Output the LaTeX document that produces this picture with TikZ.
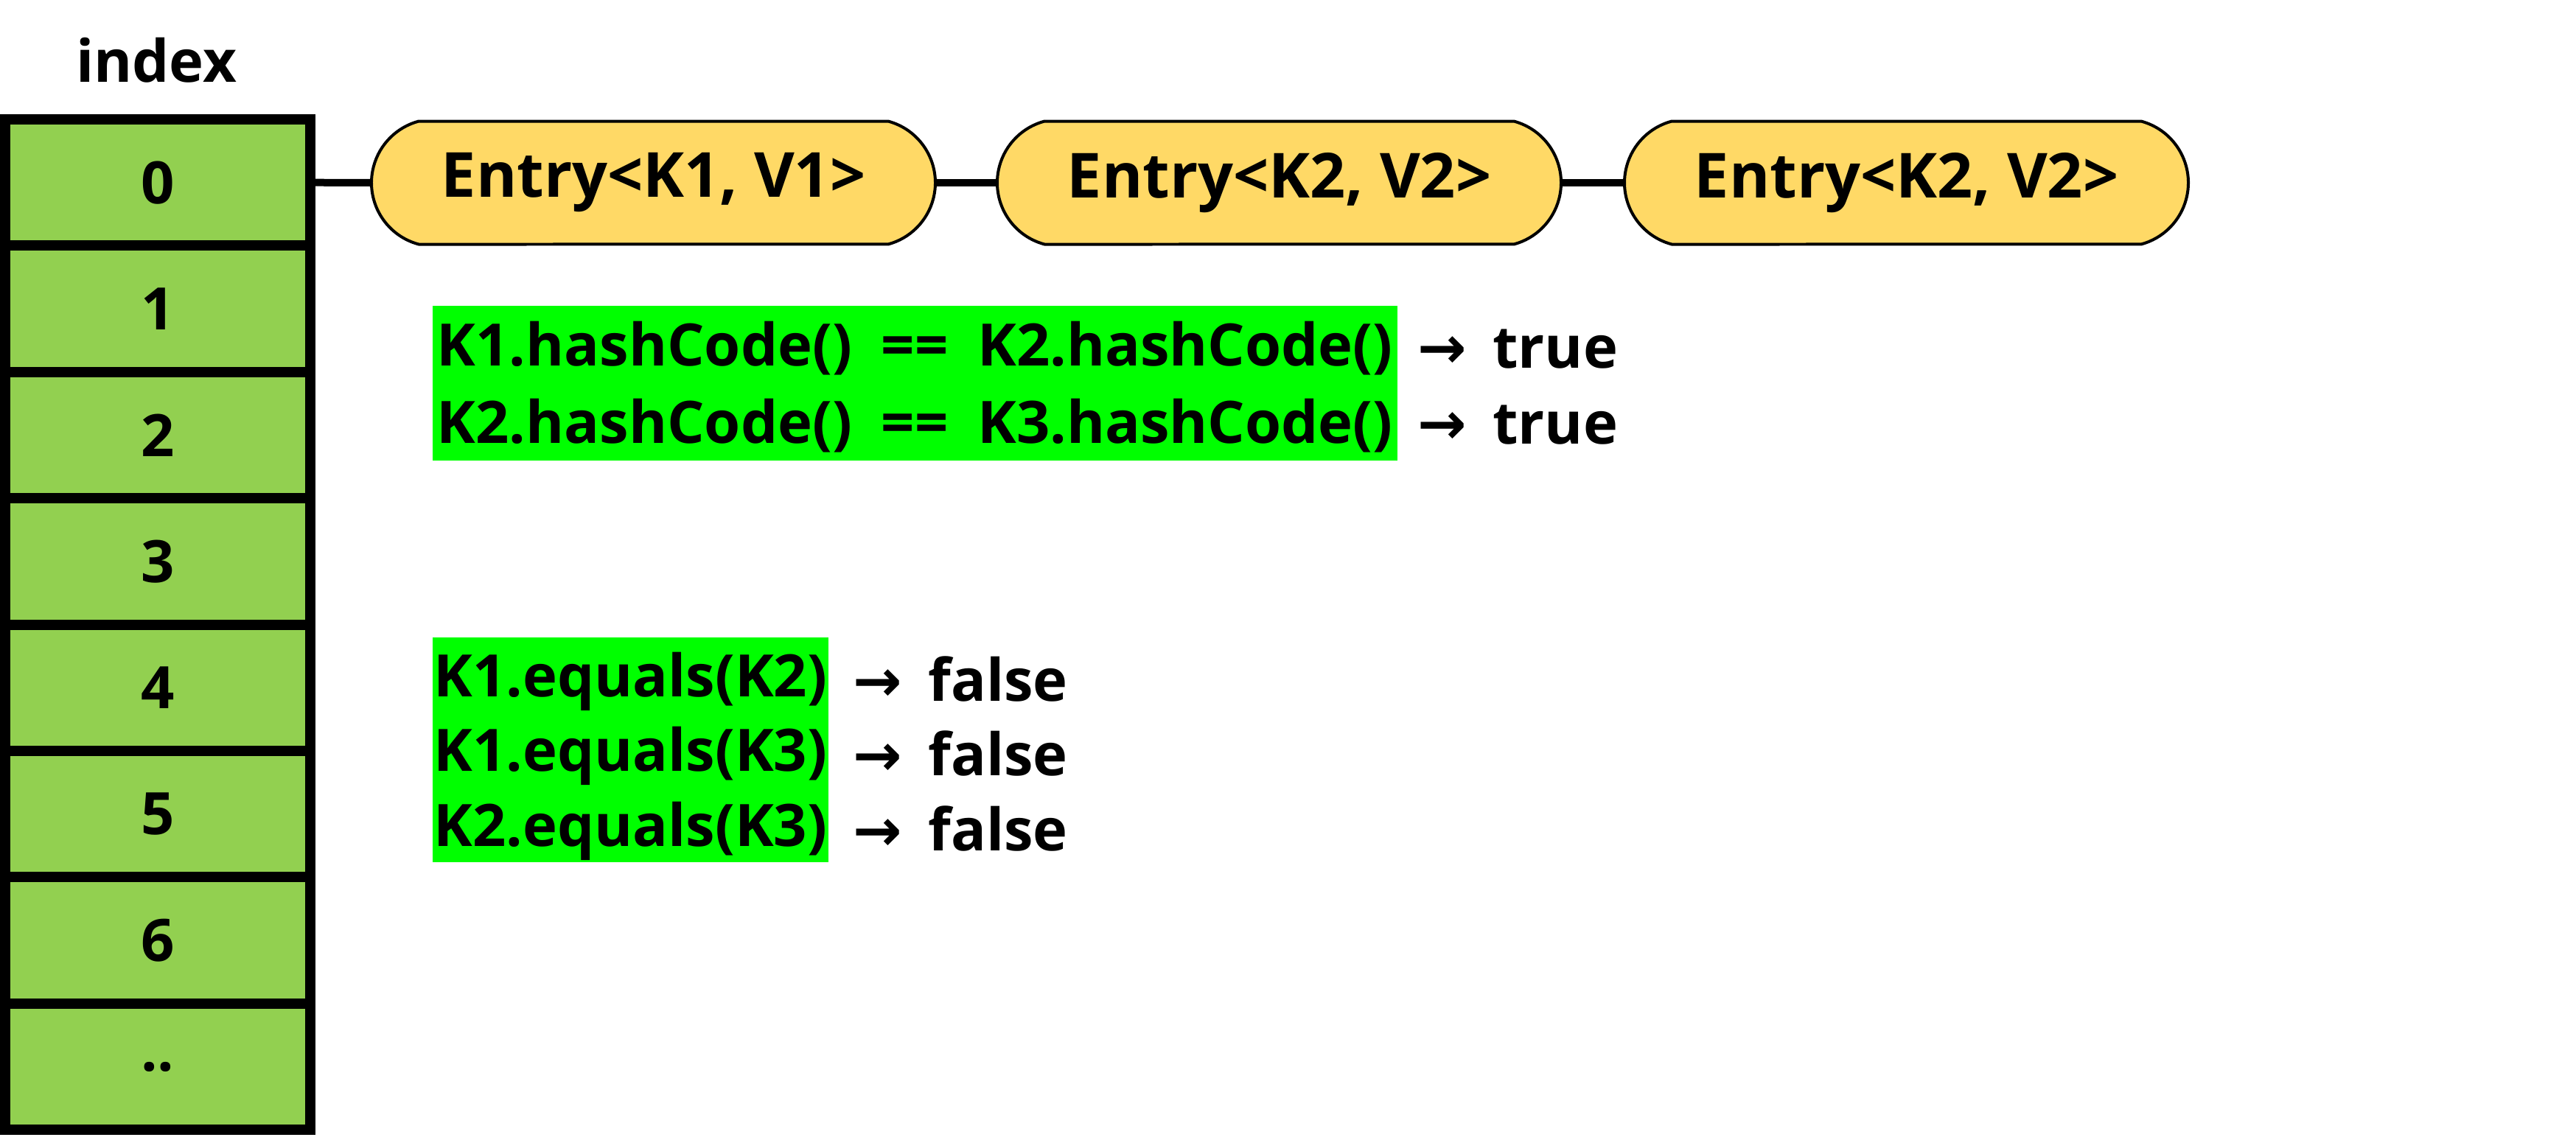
\documentclass[tikz,border=0pt]{standalone}
\usepackage{fontspec}
\setmainfont{Open Sans}
\newfontfamily\arrowfont{DejaVu Sans}
\usetikzlibrary{shapes.misc}

\definecolor{cellgreen}{HTML}{92D050}
\definecolor{entryyellow}{HTML}{FFD966}
\definecolor{markgreen}{HTML}{00FF00}

\begin{document}
\begin{tikzpicture}[
    font=\fontsize{22.6}{26}\selectfont\bfseries,
    cell/.style={draw, line width=0.14cm, fill=cellgreen, minimum width=4.14cm,
      minimum height=1.714cm, inner sep=0pt},
    entry/.style={draw, line width=0.04cm, fill=entryyellow, rounded rectangle,
      rounded rectangle arc length=150, minimum width=7.65cm, minimum height=1.67cm,
      inner sep=0pt, font=\fontsize{24}{28}\selectfont\bfseries},
    link/.style={line width=0.1cm},
    markrow/.style={fill=markgreen, anchor=west, inner sep=0pt, minimum width=#1,
      text height=0.79cm, text depth=0.2cm},
    result/.style={anchor=west, inner sep=0pt}
  ]
  \useasboundingbox (0,0) rectangle (34.95,-15.47);
  \node (index) at (2.12,-0.82) {index};
  \foreach \i/\lbl in {0/0,1/1,2/2,3/3,4/4,5/5,6/6,7/..}
    \node[cell] (c\i) at (2.14,-2.477-1.714*\i) {\lbl};
  \node[entry] (e1) at (8.865,-2.48) {Entry<K1, V1>};
  \node[entry] (e2) at (17.355,-2.48) {Entry<K2, V2>};
  \node[entry] (e3) at (25.865,-2.48) {Entry<K2, V2>};
  \begin{scope}[link]
    \draw (c0.east) -- (e1.west);
    \draw (e1.east) -- (e2.west);
    \draw (e2.east) -- (e3.west);
  \end{scope}
  \node[markrow=13.09cm, minimum height=1.05cm] (h1) at (5.86,-4.67)
    {K1.hashCode()\hspace{0.5em}==\hspace{0.5em}K2.hashCode()};
  \node[markrow=13.09cm, minimum height=1.05cm] (h2) at (5.86,-5.72)
    {K2.hashCode()\hspace{0.5em}==\hspace{0.5em}K3.hashCode()};
  \node[result] (t1) at ([xshift=0.26cm,yshift=-0.07cm]h1.east) {{\arrowfont →}\hspace{0.45em}true};
  \node[result] (t2) at ([xshift=0.26cm,yshift=-0.05cm]h2.east) {{\arrowfont →}\hspace{0.45em}true};
  \node[markrow=5.37cm, minimum height=1.02cm] (q1) at (5.86,-9.16) {K1.equals(K2)};
  \node[markrow=5.37cm, minimum height=1.02cm] (q2) at (5.86,-10.17) {K1.equals(K3)};
  \node[markrow=5.37cm, minimum height=1.02cm] (q3) at (5.86,-11.19) {K2.equals(K3)};
  \node[result] (f1) at ([xshift=0.32cm,yshift=-0.05cm]q1.east) {{\arrowfont →}\hspace{0.45em}false};
  \node[result] (f2) at ([xshift=0.32cm,yshift=-0.05cm]q2.east) {{\arrowfont →}\hspace{0.45em}false};
  \node[result] (f3) at ([xshift=0.32cm,yshift=-0.05cm]q3.east) {{\arrowfont →}\hspace{0.45em}false};
\end{tikzpicture}
\end{document}
